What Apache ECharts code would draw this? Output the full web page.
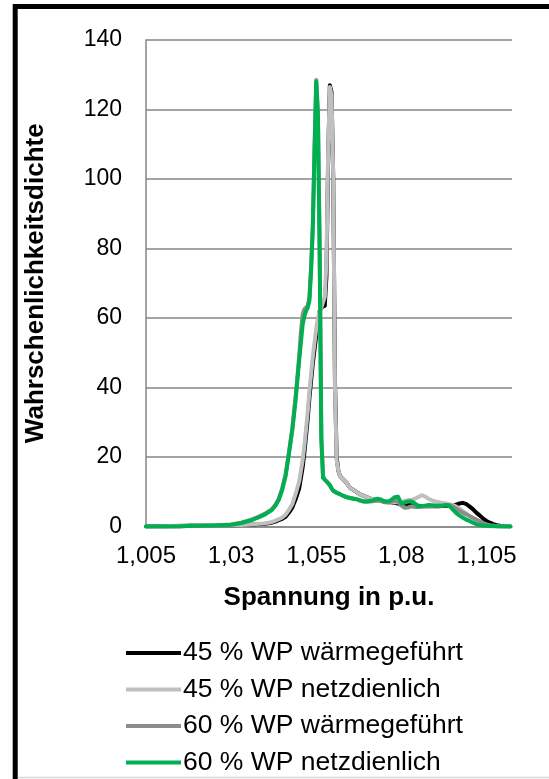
<!DOCTYPE html>
<html>
<head>
<meta charset="utf-8">
<script src="https://cdn.jsdelivr.net/npm/echarts@6/dist/echarts.min.js"></script>
<style>
  html, body { margin: 0; padding: 0; background: #fff; }
  #chart { width: 549px; height: 779px; }
</style>
</head>
<body>
<div id="chart"></div>
<script>
// Spannung in p.u. (gemeinsame x-Werte)
const spannung = [
  1.005, 1.010, 1.015, 1.018, 1.020, 1.025, 1.030, 1.033, 1.036, 1.038,
  1.040, 1.042, 1.043, 1.044, 1.045, 1.046, 1.047, 1.048, 1.049,
  1.050, 1.0505, 1.051, 1.0515, 1.052, 1.0525, 1.053, 1.0535, 1.054, 1.0545,
  1.055, 1.0555, 1.056, 1.0565, 1.057, 1.0575, 1.058, 1.0585, 1.059, 1.0595,
  1.060, 1.0605, 1.061, 1.0615, 1.062,
  1.063, 1.064, 1.065, 1.066, 1.067, 1.068, 1.069, 1.070, 1.071, 1.072,
  1.073, 1.074, 1.075, 1.076, 1.077, 1.078, 1.079, 1.080, 1.081, 1.082,
  1.083, 1.084, 1.085, 1.086, 1.087, 1.088, 1.089, 1.090, 1.091, 1.092,
  1.093, 1.094, 1.095, 1.096, 1.097, 1.098, 1.099, 1.100, 1.101, 1.102,
  1.103, 1.104, 1.105, 1.106, 1.107, 1.108, 1.109, 1.110, 1.112
];

const wp45Waerme = [
  0, 0, 0.1, 0.2, 0.2, 0.2, 0.3, 0.4, 0.5, 0.7,
  0.8, 1.1, 1.4, 1.8, 2.2, 2.8, 4, 5.5, 8,
  11, 14, 17, 21, 26, 31, 37, 42, 47, 51,
  55, 58.5, 62, 63, 63, 63.5, 72, 106, 127, 125,
  100, 42, 20, 16, 14.5,
  13.5, 12.5, 11, 10.5, 9.8, 9.2, 8.8, 8.4, 8, 7.8,
  7.6, 7.4, 7.2, 7, 7, 6.8, 6.6, 6.4, 6.2, 6.2,
  6.2, 6, 6, 5.8, 5.8, 5.8, 5.8, 5.8, 5.8, 5.9,
  6, 6, 6.1, 6.3, 6.6, 6.8, 6.5, 5.8, 5, 4,
  3.2, 2.3, 1.6, 1.1, 0.7, 0.4, 0.2, 0.1, 0
];

const wp45Netz = [
  0, 0, 0.3, 0.5, 0.2, 0.2, 0.3, 0.4, 0.6, 0.8,
  0.9, 1.3, 1.7, 2.1, 2.6, 3.4, 4.8, 6.5, 9.5,
  13, 16, 19, 23, 28, 33, 39, 44, 49, 53,
  57, 60, 62, 63, 63.5, 66, 76, 108, 126.5, 124,
  100, 40, 19, 16, 14.5,
  13.5, 12.5, 11, 10.5, 9.8, 9.2, 8.8, 8.4, 8, 7.8,
  7.6, 7.4, 7.2, 7, 7.2, 7, 7, 7, 7.4, 7.6,
  7.6, 8, 8.5, 9, 8.6, 8, 7.5, 7.2, 7, 6.8,
  6.6, 6.4, 6.2, 5.8, 5.2, 4.5, 3.8, 3, 2.3, 1.7,
  1.2, 0.8, 0.5, 0.3, 0.2, 0.1, 0, 0, 0
];

const wp60Waerme = [
  0, 0, 0, 0.2, 0.2, 0.3, 0.6, 1.1, 2, 2.8,
  3.7, 5, 6.2, 8, 11, 15, 21.5, 28.5, 38,
  49, 56, 61, 62.5, 63, 63.5, 66, 75, 87, 109,
  128.5, 119, 80, 26, 14.5, 13.5, 13, 12.5, 12, 11,
  10.3, 10, 9.7, 9.5, 9.3,
  8.8, 8.4, 8.2, 8, 7.8, 7.4, 7.2, 7.2, 7.2, 7.3,
  7.5, 7.3, 7, 7, 7.2, 7.4, 7.2, 6, 5.4, 5.5,
  5.8, 5.6, 5.6, 5.8, 5.8, 5.8, 5.9, 6, 6, 6,
  6.2, 6.2, 5.8, 5.2, 4.6, 4, 3.5, 3, 2.5, 2,
  1.5, 1, 0.6, 0.3, 0.2, 0.1, 0, 0, 0
];

const wp60Netz = [
  0, 0, 0, 0.2, 0.2, 0.3, 0.5, 1.0, 1.8, 2.6,
  3.5, 4.8, 6, 7.7, 10.5, 14.5, 21, 28, 37,
  48, 53, 58, 60.5, 62, 63, 65, 74, 86, 108,
  128, 118, 80, 25, 14, 13.5, 13, 12.5, 12, 11,
  10.3, 10, 9.7, 9.5, 9.3,
  8.8, 8.4, 8.2, 8, 7.8, 7.5, 7.2, 7.2, 7.4, 7.6,
  8, 7.8, 7.2, 7.2, 7.6, 8.4, 8.6, 6.6, 6.9, 7.2,
  7.2, 6.6, 5.8, 5.8, 6, 6.2, 6.1, 6, 6, 6,
  6.2, 6, 5, 4, 3.2, 2.6, 2, 1.6, 1.1, 0.7,
  0.4, 0.3, 0.2, 0.1, 0.1, 0, 0, 0, 0
];

const serienNamen = ['45 % WP wärmegeführt', '45 % WP netzdienlich', '60 % WP wärmegeführt', '60 % WP netzdienlich'];
const serienFarben = ['#000000', '#BFBFBF', '#8C8C8C', '#00B050'];
const serienWerte = [wp45Waerme, wp45Netz, wp60Waerme, wp60Netz];

const FONT = '"Liberation Sans", Arial, sans-serif';

let chart = echarts.init(document.getElementById('chart'), null, { renderer: 'canvas' });

let series = serienNamen.map((name, i) => ({
  name: name,
  type: 'line',
  showSymbol: false,
  symbol: 'none',
  smooth: false,
  data: spannung.map((x, k) => [x, serienWerte[i][k]]),
  lineStyle: { color: serienFarben[i], width: 4, cap: 'round', join: 'round' },
  itemStyle: { color: serienFarben[i] },
  z: 2 + i
}));

let option = {
  animation: false,
  backgroundColor: '#ffffff',
  grid: { left: 146, top: 40, right: 37, bottom: 252.5 },
  xAxis: {
    type: 'value',
    min: 1.005,
    max: 1.1125,
    interval: 0.025,
    name: 'Spannung in p.u.',
    nameLocation: 'middle',
    nameGap: 71,
    nameTextStyle: { fontFamily: FONT, fontSize: 26, fontWeight: 'bold', color: '#000', verticalAlign: 'middle' },
    axisLine: { show: true, lineStyle: { color: '#868686', width: 1.5 } },
    axisTick: { show: false },
    splitLine: { show: false },
    axisLabel: {
      fontFamily: FONT, fontSize: 24, color: '#000', margin: 18,
      showMaxLabel: false,
      formatter: v => (Math.round(v * 1000) / 1000).toString().replace('.', ',')
    }
  },
  yAxis: {
    type: 'value',
    min: 0,
    max: 140,
    interval: 20,
    name: 'Wahrschenlichkeitsdichte',
    nameLocation: 'middle',
    nameRotate: 90,
    nameGap: 110,
    nameTextStyle: { fontFamily: FONT, fontSize: 26, fontWeight: 'bold', color: '#000', verticalAlign: 'middle' },
    axisLine: { show: true, lineStyle: { color: '#868686', width: 1.5 } },
    axisTick: { show: false },
    splitLine: { lineStyle: { color: '#868686', width: 1.5 } },
    axisLabel: { fontFamily: FONT, fontSize: 23, color: '#000', margin: 24 }
  },
  legend: {
    orient: 'vertical',
    left: 126,
    top: 639,
    padding: 0,
    itemWidth: 55,
    itemHeight: 4,
    itemGap: 8.5,
    icon: 'rect',
    data: serienNamen,
    textStyle: { fontFamily: FONT, fontSize: 26.5, color: '#000', lineHeight: 28, padding: [0, 0, 0, -3] }
  },
  graphic: [
    { type: 'rect', shape: { x: 15.2, y: 6.5, width: 560, height: 790 }, style: { fill: 'none', stroke: '#000', lineWidth: 5 }, z: 100 },
    { type: 'line', shape: { x1: 18, y1: 777.5, x2: 549, y2: 777.5 }, style: { stroke: '#D9D9D9', lineWidth: 1.5 }, z: 100 }
  ],
  series: series
};

chart.setOption(option);
</script>
</body>
</html>
